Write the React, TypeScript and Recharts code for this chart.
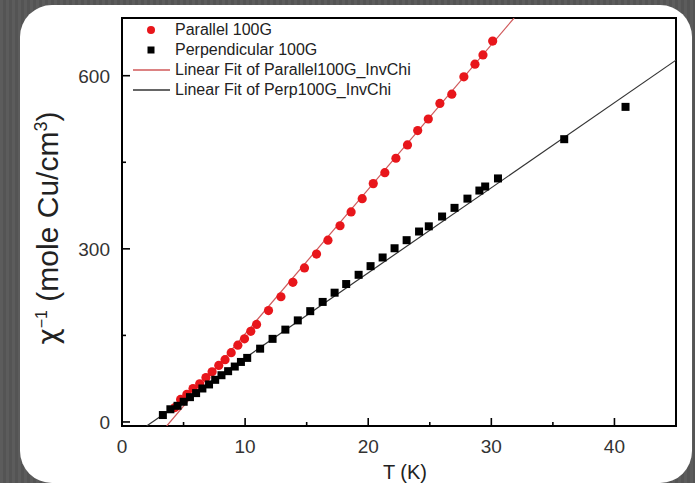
import { ScatterChart, Scatter, XAxis, YAxis, ReferenceArea, Legend } from 'recharts';

const FONT = '"Liberation Sans", Arial, sans-serif';
const RED = '#e8161b';
const RED_FIT = '#d0585a';
const BLACK = '#000000';

// Parallel 100G: T (K) and inverse susceptibility
const parallelT = [4.3, 4.76, 5.27, 5.77, 6.31, 6.82, 7.32, 7.86, 8.37, 8.87, 9.41, 9.95, 10.46, 10.93, 11.9, 12.91, 13.88, 14.82, 15.8, 16.73, 17.71, 18.61, 19.51, 20.41, 21.35, 22.25, 23.19, 24.02, 24.88, 25.82, 26.79, 27.77, 28.67, 29.32, 30.11];
const parallelInvChi = [25, 39, 48, 58, 66, 77, 87, 98, 108, 120, 133, 144, 157, 169, 193, 217, 242, 267, 291, 315, 340, 364, 387, 413, 432, 457, 480, 505, 525, 552, 568, 598, 620, 636, 660];

// Perpendicular 100G
const perpT = [3.32, 3.93, 4.51, 5.01, 5.52, 6.02, 6.53, 7.07, 7.57, 8.08, 8.62, 9.16, 9.66, 10.17, 11.22, 12.23, 13.27, 14.28, 15.29, 16.3, 17.27, 18.21, 19.22, 20.19, 21.17, 22.14, 23.12, 24.13, 24.92, 26.0, 27.01, 28.06, 29.03, 29.5, 30.54, 35.92, 40.9];
const perpInvChi = [12, 22, 28, 35, 43, 50, 58, 65, 73, 81, 88, 96, 104, 111, 127, 144, 160, 176, 192, 208, 224, 239, 255, 270, 285, 301, 315, 330, 339, 356, 371, 387, 401, 408, 422, 490, 546];

// linear fit end points
const parFitT = [3.63, 31.85];
const parFitInvChi = [-7, 700];
const perpFitT = [2.0, 45];
const perpFitInvChi = [-7, 627];

const xTicks = [0, 5, 10, 15, 20, 25, 30, 35, 40];
const yTicks = [0, 150, 300, 450, 600];

const toPoints = (xs: number[], ys: number[]) => xs.map((t, i) => ({ t, chi: ys[i] }));

const parallelData = toPoints(parallelT, parallelInvChi);
const perpData = toPoints(perpT, perpInvChi);
const parFit = toPoints(parFitT, parFitInvChi);
const perpFit = toPoints(perpFitT, perpFitInvChi);

const legendItems = [
    { label: 'Parallel 100G', kind: 'circle', color: RED },
    { label: 'Perpendicular 100G', kind: 'square', color: BLACK },
    { label: 'Linear Fit of Parallel100G_InvChi', kind: 'line', color: RED_FIT },
    { label: 'Linear Fit of Perp100G_InvChi', kind: 'line', color: '#333' },
];

const XTick = (props: any) => {
    const { x, y, payload } = props;
    const major = payload.value % 10 === 0;
    return (
        <g>
            <line x1={x} x2={x} y1={y} y2={y - (major ? 8 : 4)} stroke="#000" strokeWidth={1.6} />
            {major && (
                <text x={x} y={y + 27} textAnchor="middle" fontSize={19} fontFamily={FONT} fill="#333">
                    {payload.value}
                </text>
            )}
        </g>
    );
};

const YTick = (props: any) => {
    const { x, y, payload } = props;
    const major = payload.value % 300 === 0;
    return (
        <g>
            <line x1={x} x2={x + (major ? 8 : 4)} y1={y} y2={y} stroke="#000" strokeWidth={1.6} />
            {major && (
                <text x={x - 12} y={y + 7} textAnchor="end" fontSize={19} fontFamily={FONT} fill="#333">
                    {payload.value}
                </text>
            )}
        </g>
    );
};

const Dot = (props: any) => <circle cx={props.cx} cy={props.cy} r={4.6} fill={RED} />;
const Square = (props: any) => <rect x={props.cx - 4} y={props.cy - 4} width={8} height={8} fill={BLACK} />;
const NoShape = () => <g />;

const renderLegend = () => (
    <div style={{ fontFamily: FONT, fontSize: 16, color: '#222' }}>
        {legendItems.map((item) => (
            <div key={item.label} style={{ display: 'flex', alignItems: 'center', height: 20 }}>
                <svg width={46} height={20}>
                    {item.kind === 'circle' && <circle cx={25} cy={10} r={4} fill={item.color} />}
                    {item.kind === 'square' && <rect x={21.5} y={6.5} width={7} height={7} fill={item.color} />}
                    {item.kind === 'line' && <line x1={7} x2={44} y1={10} y2={10} stroke={item.color} strokeWidth={1.3} />}
                </svg>
                <span style={{ marginLeft: 3, whiteSpace: 'nowrap' }}>{item.label}</span>
            </div>
        ))}
    </div>
);

export default function App() {
    return (
        <div
            style={{
                position: 'absolute',
                left: 0,
                top: 0,
                width: 695,
                height: 483,
                overflow: 'hidden',
                background: 'repeating-linear-gradient(90deg, #5c5c5c 0px, #5c5c5c 3px, #545454 3px, #545454 6px)',
            }}
        >
            <div style={{ position: 'absolute', left: 20, top: 5, width: 672, height: 478, background: '#fff', borderRadius: 32 }} />
            <ScatterChart
                width={695}
                height={483}
                margin={{ top: 18, right: 19, bottom: 27, left: 62 }}
                style={{ position: 'absolute', left: 0, top: 0 }}
            >
                <XAxis
                    type="number"
                    dataKey="t"
                    domain={[0, 45]}
                    ticks={xTicks}
                    interval={0}
                    allowDataOverflow
                    axisLine={false}
                    tickLine={false}
                    tickSize={0}
                    tickMargin={0}
                    tick={<XTick />}
                    height={30}
                />
                <YAxis
                    type="number"
                    dataKey="chi"
                    domain={[-7, 700]}
                    ticks={yTicks}
                    interval={0}
                    allowDataOverflow
                    axisLine={false}
                    tickLine={false}
                    tickSize={0}
                    tickMargin={0}
                    tick={<YTick />}
                    width={60}
                />
                <Legend
                    content={renderLegend}
                    layout="vertical"
                    align="center"
                    verticalAlign="middle"
                    wrapperStyle={{ left: 126, top: 20, width: 330 }}
                />
                <Scatter data={parFit} line={{ stroke: RED_FIT, strokeWidth: 1.2 }} shape={NoShape} isAnimationActive={false} legendType="none" />
                <Scatter data={perpFit} line={{ stroke: '#333', strokeWidth: 1.2 }} shape={NoShape} isAnimationActive={false} legendType="none" />
                <Scatter data={parallelData} shape={Dot} isAnimationActive={false} name="Parallel 100G" />
                <Scatter data={perpData} shape={Square} isAnimationActive={false} name="Perpendicular 100G" />
                <ReferenceArea x1={0} x2={45} y1={-7} y2={700} fill="none" stroke="#000" strokeWidth={2} ifOverflow="visible" />
            </ScatterChart>
            <div
                style={{
                    position: 'absolute',
                    left: 48,
                    top: 228,
                    transform: 'translate(-50%, -50%) rotate(-90deg)',
                    whiteSpace: 'nowrap',
                    fontFamily: FONT,
                    fontSize: 30,
                    color: '#222',
                }}
            >
                <span style={{ fontFamily: '"DejaVu Sans", sans-serif', fontSize: 28 }}>χ</span>
                <sup style={{ fontSize: 16 }}>−1</sup> (mole Cu/cm<sup style={{ fontSize: 18 }}>3</sup>)
            </div>
            <div
                style={{
                    position: 'absolute',
                    left: 405,
                    top: 472,
                    transform: 'translate(-50%, -50%)',
                    whiteSpace: 'nowrap',
                    fontFamily: FONT,
                    fontSize: 20,
                    color: '#222',
                }}
            >
                T (K)
            </div>
        </div>
    );
}
